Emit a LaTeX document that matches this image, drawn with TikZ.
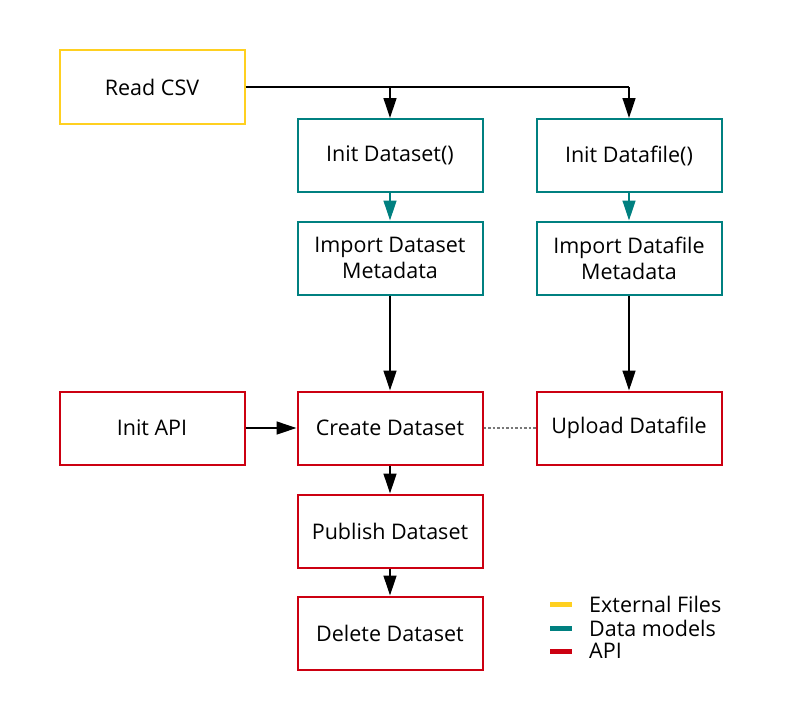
\documentclass[tikz,border=0pt]{standalone}
\usepackage{fontspec}
\setmainfont{Open Sans}
\usetikzlibrary{arrows.meta}
\definecolor{cyel}{RGB}{255,208,32}
\definecolor{cteal}{RGB}{0,128,128}
\definecolor{cred}{RGB}{204,0,17}
\definecolor{cdot}{RGB}{120,120,120}
\tikzset{
  box/.style={draw, line width=2pt, minimum width=185pt, minimum height=73pt, align=center, inner sep=0pt, font=\fontsize{21.5}{26}\selectfont},
  ext/.style={box, draw=cyel},
  model/.style={box, draw=cteal},
  api/.style={box, draw=cred},
  arr/.style={line width=1.3pt, -{Triangle[length=20pt,width=13pt]}},
  legline/.style={line width=5pt},
  legtext/.style={anchor=west, inner sep=0pt, font=\fontsize{21.5}{26}\selectfont}
}
\begin{document}
\begin{tikzpicture}[x=1pt,y=-1pt]
\useasboundingbox (0,0) rectangle (800,725);
\node[ext] (csv) at (152,87) {Read CSV};
\node[model] (ids) at (390,155.5) {Init Dataset()};
\node[model] (idf) at (629,155.5) {Init Datafile()};
\node[model] (mds) at (390,258) {Import Dataset\\Metadata};
\node[model] (mdf) at (629,258) {Import Datafile\\Metadata};
\node[api] (iapi) at (152,428) {Init API};
\node[api] (cds) at (390,428) {Create Dataset};
\node[api] (udf) at (629,428) {Upload Datafile};
\node[api] (pds) at (390,531) {Publish Dataset};
\node[api] (dds) at (390,633) {Delete Dataset};
\coordinate (j1) at (ids.north |- csv.east);
\coordinate (j2) at (idf.north |- csv.east);
\draw[line width=1.3pt] (csv.east) -- (j2);
\draw[arr] (j1) -- (ids.north);
\draw[arr] (j2) -- (idf.north);
\draw[arr, draw=cteal, fill=cteal] (ids) -- (mds);
\draw[arr, draw=cteal, fill=cteal] (idf) -- (mdf);
\draw[arr] (mds) -- (cds);
\draw[arr] (mdf) -- (udf);
\draw[arr] (iapi) -- (cds);
\draw[arr] (cds) -- (pds);
\draw[arr] (pds) -- (dds);
\draw[cdot, line width=1.2pt, dash pattern=on 2.5pt off 2pt] (cds) -- (udf);
\coordinate (l1a) at (550,604); \coordinate (l1b) at (572,604);
\coordinate (l2a) at (550,628); \coordinate (l2b) at (572,628);
\coordinate (l3a) at (550,651); \coordinate (l3b) at (572,651);
\draw[legline, cyel] (l1a) -- (l1b);
\draw[legline, cteal] (l2a) -- (l2b);
\draw[legline, cred] (l3a) -- (l3b);
\node[legtext] (t1) at (589,604) {External Files};
\node[legtext] (t2) at (589,628) {Data models};
\node[legtext] (t3) at (589,651) {API};
\end{tikzpicture}
\end{document}
